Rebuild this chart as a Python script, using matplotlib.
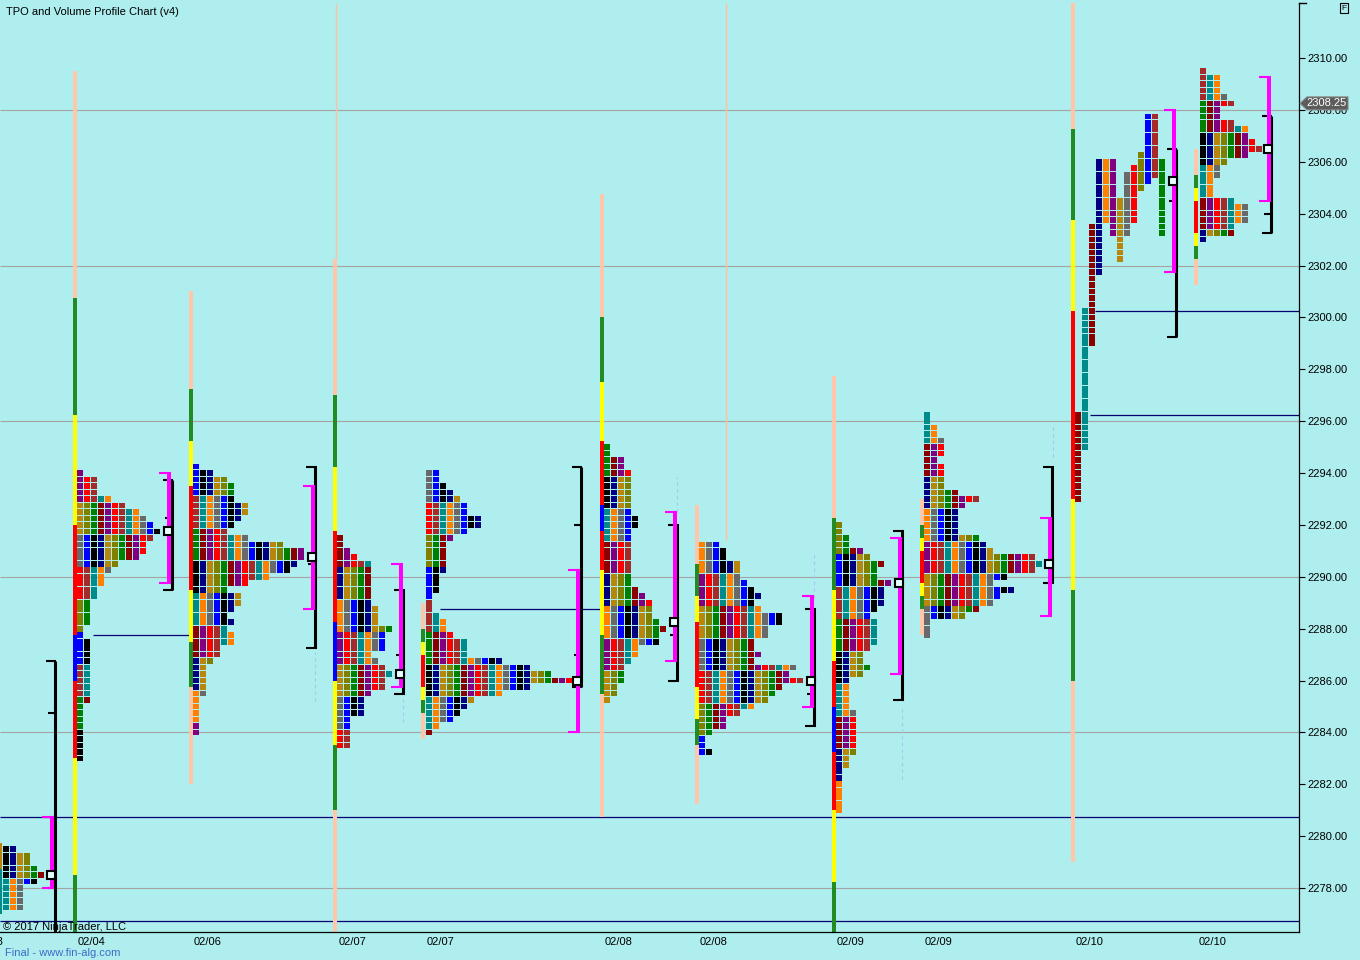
import matplotlib
matplotlib.use("Agg")
import matplotlib.pyplot as plt
from matplotlib.patches import Polygon
from matplotlib.transforms import IdentityTransform, blended_transform_factory

plt.rcParams['font.family'] = ['Liberation Sans', 'DejaVu Sans']

# ---------------------------------------------------------------- data
title = 'TPO and Volume Profile Chart (v4)'
copyright_text = '\u00a9 2017 NinjaTrader, LLC'
footer_text = 'Final - www.fin-alg.com'
date_labels = ['02/03', '02/04', '02/06', '02/07', '02/07', '02/08',
               '02/08', '02/09', '02/09', '02/10', '02/10']
y_ticks = [2278, 2280, 2282, 2284, 2286, 2288, 2290, 2292, 2294, 2296,
           2298, 2300, 2302, 2304, 2306, 2308, 2310]
last_price = 2308.25
grid_levels = [2308, 2302, 2296, 2290, 2284, 2278]
ref_levels = [2287.75, 2288.75, 2300.25, 2296.25, 2280.75, 2276.75]
faint_tops = [2287.1, 2285.3, 2293.85, 2290.9, 2284.9, 2295.9]
faint_bottoms = [2285.2, 2284.4, 2292.5, 2289.2, 2282.2, 2294.6]

# TPO profiles: price of top row and number of TPO cells per row (top -> bottom, 0.25 tick)
top_A = 2279.5
rows_A = [2, 4, 4, 5, 6, 5, 3, 3, 3, 3]
top_B = 2294.0
rows_B = [1, 3, 3, 3, 5, 7, 9, 10, 11, 12, 11, 10, 10, 9, 6, 5, 4, 4, 3, 3,
          2, 2, 2, 2, 1, 1, 2, 2, 2, 2, 2, 2, 2, 2, 2, 2, 1, 1, 1, 1, 1, 1, 1, 1, 1]
top_C = 2294.25
rows_C = [1, 3, 5, 6, 6, 6, 8, 8, 7, 6, 5, 8, 13, 16, 16, 15, 14, 11, 8, 5,
          7, 7, 6, 5, 6, 5, 6, 6, 4, 4, 3, 2, 2, 2, 2, 2, 1, 1, 1, 1, 1, 1]
top_D = 2291.5
rows_D = [1, 1, 2, 3, 5, 5, 5, 5, 5, 5, 5, 6, 6, 6, 8, 7, 7, 7, 5, 6, 7, 8,
          7, 7, 5, 4, 4, 4, 2, 2, 2, 2, 2]
top_E = 2294.0
rows_E = [2, 2, 3, 4, 5, 6, 6, 8, 8, 6, 4, 3, 3, 3, 3, 3, 2, 2, 2, 1,
          1, 1, 2, 3, 3, 4, 6, 6, 6, 11, 15, 18, 21, 15, 11, 7, 6, 5, 4, 2, 1]
top_F = 2295.0
rows_F = [1, 1, 3, 3, 4, 4, 4, 4, 4, 4, 4, 5, 5, 4, 4, 4, 4, 4, 4, 4, 4, 4,
          5, 6, 7, 7, 7, 8, 9, 8, 8, 5, 5, 4, 3, 3, 3, 2, 2, 1]
top_G = 2291.25
rows_G = [3, 4, 4, 6, 6, 6, 7, 8, 9, 8, 9, 12, 12, 10, 10, 8, 8, 9, 8, 14,
          13, 15, 12, 11, 10, 8, 6, 4, 4, 2, 1, 1, 2]
top_H = 2292.0
rows_H = [1, 1, 2, 2, 4, 5, 7, 6, 6, 8, 7, 7, 7, 6, 5, 6, 6, 6, 6, 5, 4, 4,
          5, 4, 2, 2, 2, 2, 2, 3, 3, 3, 3, 3, 3, 3, 2, 2, 1, 1, 1, 1, 1, 1, 1]
top_I = 2296.25
rows_I = [1, 1, 2, 2, 3, 3, 3, 2, 3, 3, 3, 3, 5, 8, 6, 5, 5, 5, 5, 8, 9, 10,
          16, 17, 16, 12, 10, 13, 11, 10, 8, 6, 1, 1, 1]
top_K = 2309.5
rows_K = [1, 3, 3, 3, 4, 5, 3, 3, 5, 7, 7, 8, 9, 7, 4, 3, 3, 2, 2, 2, 5, 7,
          7, 7, 5, 5, 1]
# split profile 02/10: one column per period (top, bottom price of each column)
col_tops_J = [2296.25, 2300.25, 2303.5, 2306.0, 2306.0, 2306.0, 2304.5,
              2305.5, 2305.75, 2306.25, 2307.75, 2307.75, 2306.0]
col_bottoms_J = [2293.0, 2295.0, 2299.0, 2301.75, 2303.75, 2303.25, 2302.25,
                 2303.25, 2303.75, 2305.0, 2305.25, 2305.5, 2303.25]
col_colors_J = ['#8B0000', '#008B8B', '#8B0000', '#000080', '#FF8000', '#800080',
                '#B8860B', '#696969', '#FF0000', '#808000', '#0000FF', '#A52A2A', '#008000']

# session range bars: segment boundaries (top -> bottom) and colour codes
bar_A = [2279.75, 2278.75, 2277.0]
barc_A = ['O', 'T']
bar_B = [2309.5, 2300.75, 2296.25, 2292.0, 2287.75, 2286.0, 2283.0, 2278.5, 2276.0]
barc_B = ['P', 'G', 'Y', 'R', 'B', 'R', 'Y', 'G']
bar_C = [2301.0, 2297.25, 2295.25, 2293.5, 2289.5, 2287.5, 2285.75, 2282.0]
barc_C = ['P', 'G', 'Y', 'R', 'Y', 'G', 'P']
bar_D = [2302.25, 2297.0, 2294.25, 2291.75, 2288.25, 2286.0, 2283.5, 2281.0, 2276.0]
barc_D = ['P', 'G', 'Y', 'R', 'B', 'Y', 'G', 'P']
bar_E = [2289.0, 2288.0, 2287.5, 2287.0, 2285.75, 2285.25, 2284.75, 2283.75]
barc_E = ['P', 'G', 'Y', 'R', 'Y', 'G', 'P']
bar_F = [2304.75, 2300.0, 2297.5, 2295.25, 2292.75, 2291.75, 2290.25, 2287.75, 2285.5, 2280.75]
barc_F = ['P', 'G', 'Y', 'R', 'B', 'R', 'Y', 'G', 'P']
bar_G = [2292.75, 2290.5, 2289.25, 2288.25, 2285.75, 2284.5, 2283.5, 2281.25]
barc_G = ['P', 'G', 'Y', 'R', 'Y', 'G', 'P']
bar_H = [2297.75, 2292.25, 2289.5, 2286.75, 2285.0, 2283.25, 2281.0, 2278.25, 2276.0]
barc_H = ['P', 'G', 'Y', 'R', 'B', 'R', 'Y', 'G']
bar_I = [2293.0, 2292.0, 2291.5, 2291.0, 2289.75, 2289.25, 2288.75, 2287.75]
barc_I = ['P', 'G', 'Y', 'R', 'Y', 'G', 'P']
bar_J = [2312.2, 2307.25, 2303.75, 2300.25, 2293.0, 2289.5, 2286.0, 2279.0]
barc_J = ['P', 'G', 'Y', 'R', 'Y', 'G', 'P']
bar_K = [2306.5, 2305.5, 2305.0, 2304.5, 2303.25, 2302.75, 2302.25, 2301.25]
barc_K = ['P', 'G', 'Y', 'R', 'Y', 'G', 'P']

# value area (magenta), session range (black), POC and range marks
va_high = [2280.75, 2294.0, 2293.5, 2290.5, 2290.25, 2292.5, 2289.25, 2291.5, 2292.25, 2308.0, 2309.25]
va_low = [2278.0, 2289.75, 2288.75, 2285.75, 2284.0, 2286.75, 2285.0, 2286.25, 2288.5, 2301.75, 2304.5]
rng_high = [2286.75, 2293.75, 2294.25, 2289.5, 2294.25, 2292.0, 2288.75, 2291.75, 2294.25, 2306.5, 2307.75]
rng_low = [2276.0, 2289.5, 2287.25, 2285.5, 2285.75, 2286.0, 2284.25, 2285.25, 2289.75, 2299.25, 2303.25]
poc = [2278.5, 2291.75, 2290.75, 2286.25, 2286.0, 2288.25, 2286.0, 2289.75, 2290.5, 2305.25, 2306.5]
marks = [[2284.75, 2278.0], [2292.25], [2290.5], [2287.0], [2292.0, 2287.0], [2287.75],
         [2285.5], [2289.75], [], [2304.5], [2304.0]]

# ---------------------------------------------------------------- layout / style
BG = '#AFEEEE'
PXPT = 25.94                      # pixels per index point
CELL_W, CELL_P = 6, 7             # cell width / pitch in px
CELL_H = 0.22                     # cell height in points
SEG = {'P': '#FFC6AA', 'G': '#228B22', 'Y': '#FFFF00', 'R': '#FF0000',
       'B': '#0000FF', 'O': '#B8860B', 'T': '#008B8B'}
PAL = ['#000000', '#008B8B', '#8B0000', '#000080', '#FF8000', '#800080',
       '#B8860B', '#696969', '#FF0000', '#808000', '#0000FF', '#A52A2A', '#008000']

bar_x = [1, 75, 191, 335, 423, 602, 697, 834, 922, 1073, 1196]
cell_x0 = [3, 77, 193, 337, 426, 604, 699, 836, 924, None, 1200]
mag_x = [52, 169, 313, 401, 578, 675, 812, 900, 1050, 1174, 1269]
blk_x = [55, 172, 315.5, 403.5, 581, 677.5, 814.5, 902.5, 1052.5, 1176, 1271]
label_x = [-10, 92, 208, 353, 441, 619, 714, 851, 939, 1090, 1213]
ref_x0 = [93, 440, 1095, 1090, 0, 0]
ref_x1 = [190, 600, 1299, 1299, 1299, 1299]
faint_x = [315, 403, 677, 814, 902, 1053]

profiles = [(top_A, rows_A), (top_B, rows_B), (top_C, rows_C), (top_D, rows_D),
            (top_E, rows_E), (top_F, rows_F), (top_G, rows_G), (top_H, rows_H),
            (top_I, rows_I), None, (top_K, rows_K)]
bars = [(bar_A, barc_A), (bar_B, barc_B), (bar_C, barc_C), (bar_D, barc_D),
        (bar_E, barc_E), (bar_F, barc_F), (bar_G, barc_G), (bar_H, barc_H),
        (bar_I, barc_I), (bar_J, barc_J), (bar_K, barc_K)]

W, H = 1360, 960
fig = plt.figure(figsize=(W / 100, H / 100), dpi=100, facecolor=BG)
ax_top_px, ax_bot_px, ax_right_px = 3, 932, 1299
ax = fig.add_axes([0, (H - ax_bot_px) / H, ax_right_px / W, (ax_bot_px - ax_top_px) / H])
ax.set_facecolor(BG)
ax.set_xlim(0, ax_right_px)
y_bottom = 2310 - (ax_bot_px - 58) / PXPT
y_top = 2310 + (58 - ax_top_px) / PXPT
ax.set_ylim(y_bottom, y_top)

# grid & reference lines
ax.hlines(grid_levels, 0, ax_right_px, colors='#A4A4A4', linewidth=0.8, zorder=0)
ax.hlines(ref_levels, ref_x0, ref_x1, colors='#000070', linewidth=0.9, zorder=1)
ax.vlines(faint_x, faint_bottoms, faint_tops, colors='#A8C4F0', linewidth=0.8,
          linestyles=(0, (3, 3)), zorder=1)
# thin session separators
ax.vlines([336, 726], [bar_D[0], 2291.4], [y_top, y_top], colors='#FFC0A0', linewidth=1.0, zorder=1)

# session bars
for i, (lv, cc) in enumerate(bars):
    w = 2 if i == 0 else 4
    for k, c in enumerate(cc):
        ax.bar(bar_x[i], lv[k] - lv[k + 1], bottom=lv[k + 1], width=w,
               color=SEG[c], linewidth=0, zorder=2)

# TPO cells
xs, bots, cols = [], [], []
for i, prof in enumerate(profiles):
    if prof is None:
        continue
    top, rows = prof
    for r, wcount in enumerate(rows):
        price = top - 0.25 * r
        for c in range(wcount):
            xs.append(cell_x0[i] + c * CELL_P)
            bots.append(price - CELL_H / 2)
            cols.append(PAL[(i * 5 + 3 * c + r // 5) % len(PAL)])
# split profile J
for j, (t, b) in enumerate(zip(col_tops_J, col_bottoms_J)):
    n = int(round((t - b) / 0.25)) + 1
    for r in range(n):
        xs.append(1075 + j * CELL_P)
        bots.append(t - 0.25 * r - CELL_H / 2)
        cols.append(col_colors_J[j])
ax.bar(xs, CELL_H, bottom=bots, width=CELL_W, align='edge', color=cols,
       linewidth=0, zorder=3)

# range bars, value areas, POC
for i in range(len(poc)):
    xb, xm = blk_x[i], mag_x[i]
    ax.vlines(xb, rng_low[i], rng_high[i], colors='black', linewidth=2.2, zorder=4)
    ax.hlines([rng_high[i], rng_low[i]], xb - 9, xb + 1.5, colors='black', linewidth=1.5, zorder=4)
    if marks[i]:
        ax.hlines(marks[i], xb - 7, xb, colors='black', linewidth=1.5, zorder=4)
    ax.vlines(xm, va_low[i], va_high[i], colors='#FF00FF', linewidth=2.9, zorder=5)
    ax.hlines([va_high[i], va_low[i]], xm - 10, xm + 2, colors='#FF00FF', linewidth=1.5, zorder=5)
    ax.plot([xm - 0.5], [poc[i]], marker='s', ms=5.5, mfc='#E6FFFF', mec='black',
            mew=1.5, zorder=6, linestyle='none')

# axes styling
for s in ['left', 'top']:
    ax.spines[s].set_visible(False)
ax.spines['right'].set_color('black')
ax.spines['right'].set_linewidth(0.9)
ax.spines['bottom'].set_color('black')
ax.spines['bottom'].set_linewidth(0.9)
ax.yaxis.tick_right()
ax.set_yticks(y_ticks)
ax.set_yticklabels([f'{v:.2f}' for v in y_ticks])
ax.tick_params(axis='y', direction='out', length=4, width=0.8, pad=2, labelsize=8,
               colors='black')
ax.set_xticks([])
ax.plot([ax_right_px, ax_right_px + 7], [y_top, y_top], color='black', lw=1.0,
        clip_on=False, zorder=6)

trans = blended_transform_factory(ax.transData, ax.transAxes)
for xl, lab in zip(label_x, date_labels):
    ax.text(xl, -10 / (ax_bot_px - ax_top_px), lab, transform=trans, ha='center',
            va='center', fontsize=8, color='black', clip_on=False)

fig.text(6 / W, 1 - 12 / H, title, fontsize=8, va='center', ha='left', color='black')
fig.text(3 / W, 1 - 927 / H, copyright_text, fontsize=8, va='center', ha='left', color='black')
fig.text(5 / W, 1 - 953 / H, footer_text, fontsize=8, va='center', ha='left', color='#3A6CC8')

# last price flag
yl = H - (58 + (2310 - last_price) * PXPT)
flag = Polygon([(1300, yl), (1307, yl + 6.5), (1348, yl + 6.5), (1348, yl - 6.5), (1307, yl - 6.5)],
               closed=True, transform=IdentityTransform(), facecolor='#5C5C5C',
               edgecolor='#8A8A8A', linewidth=0.8, zorder=10)
fig.add_artist(flag)
fig.text(1327 / W, yl / H, f'{last_price:.2f}', fontsize=8, color='white', ha='center',
         va='center', zorder=11)
fig.text(1344 / W, 1 - 8 / H, 'F', fontsize=6, ha='center', va='center', zorder=11,
         bbox=dict(boxstyle='square,pad=0.2', fc=BG, ec='black', lw=0.8))

fig.savefig('out.png', dpi=100, facecolor=BG)
